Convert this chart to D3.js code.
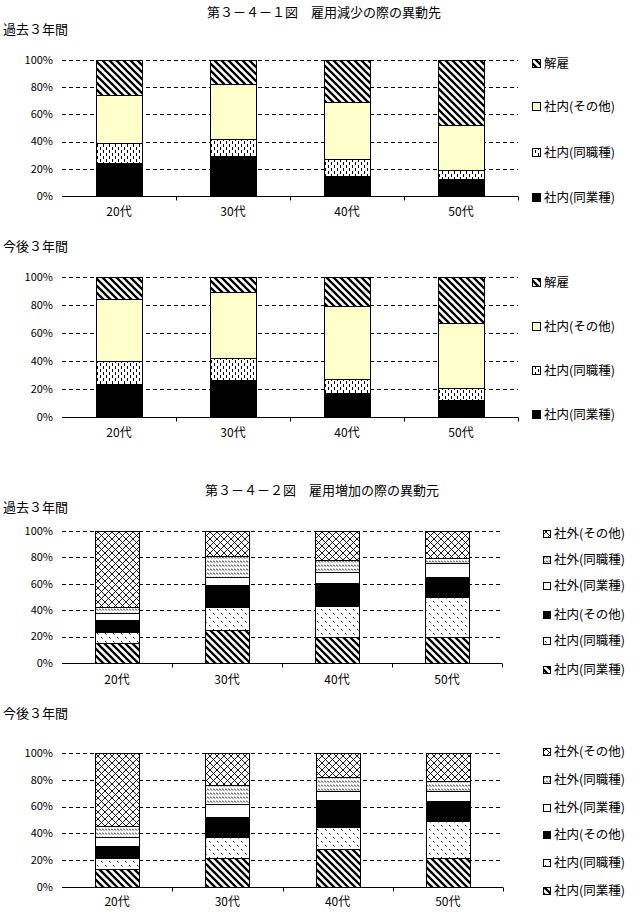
<!DOCTYPE html>
<html><head><meta charset="utf-8">
<script src="https://cdn.jsdelivr.net/npm/d3@7"></script>
<style>
body{margin:0;background:#fff;}
text{font-family:"Noto Sans CJK JP","Noto Sans",sans-serif;fill:#000;}
</style></head>
<body>
<svg id="c" width="640" height="915"></svg>
<script>
// ---- data ----
const categories = ["20代","30代","40代","50代"];
const yTicks = [0,20,40,60,80,100];
const yTickLabels = ["0%","20%","40%","60%","80%","100%"];

// Fig 3-4-1 series (bottom -> top)
const seriesA = ["社内(同業種)","社内(同職種)","社内(その他)","解雇"];
const pastA_same_industry = [24.0, 29.4, 14.7, 12.3];
const pastA_same_job      = [14.7, 12.3, 12.5, 6.8];
const pastA_other         = [35.6, 40.4, 42.2, 33.1];
const pastA_dismissal     = [25.7, 17.9, 30.6, 47.8];
const futA_same_industry  = [23.8, 26.6, 17.4, 12.4];
const futA_same_job       = [15.9, 15.5, 10.0, 8.3];
const futA_other          = [44.3, 47.2, 51.6, 46.4];
const futA_dismissal      = [16.0, 10.7, 21.0, 32.9];

// Fig 3-4-2 series (bottom -> top)
const seriesB = ["社内(同業種)","社内(同職種)","社内(その他)","社外(同業種)","社外(同職種)","社外(その他)"];
const pastB_in_industry  = [15.1, 25.1, 20.0, 20.0];
const pastB_in_job       = [8.3, 17.6, 23.4, 29.7];
const pastB_in_other     = [9.2, 16.3, 17.4, 15.6];
const pastB_out_industry = [5.1, 6.3, 7.8, 10.5];
const pastB_out_job      = [5.0, 16.1, 9.3, 4.1];
const pastB_out_other    = [57.3, 18.6, 22.1, 20.1];
const futB_in_industry   = [13.8, 21.8, 28.3, 21.8];
const futB_in_job        = [8.0, 15.7, 16.7, 27.7];
const futB_in_other      = [8.7, 14.5, 20.0, 14.8];
const futB_out_industry  = [7.0, 9.8, 6.7, 7.4];
const futB_out_job       = [8.0, 14.5, 10.3, 7.3];
const futB_out_other     = [54.5, 23.7, 18.0, 21.0];

const svg = d3.select("#c");
const defs = svg.append("defs");

// ---- patterns ----
function pat(id, w, h, build){
  const p = defs.append("pattern").attr("id", id).attr("patternUnits","userSpaceOnUse")
    .attr("width", w).attr("height", h);
  p.append("rect").attr("width", w).attr("height", h).attr("fill","#fff");
  build(p);
}
pat("hatch", 7, 7, p => p.append("path").attr("d","M-1,-1 L8,8 M-4.5,2.5 L2.5,9.5 M2.5,-4.5 L9.5,2.5")
  .attr("stroke","#000").attr("stroke-width",2.3));
pat("vdash", 6, 6, p => {
  p.append("rect").attr("x",1).attr("y",0).attr("width",1).attr("height",3).attr("fill","#000");
  p.append("rect").attr("x",4).attr("y",3).attr("width",1).attr("height",3).attr("fill","#000");
});
pat("confetti", 8, 8, p => {
  p.append("path").attr("d","M1,1 L2.5,2.5 M5,5 L6.5,6.5").attr("stroke","#000").attr("stroke-width",1);
});
pat("smallhatch", 3, 4, p => p.append("path").attr("d","M0,0.5 L2,2.5").attr("stroke","#000").attr("stroke-width",1));
pat("cross", 7, 7, p => p.append("path").attr("d","M0,0 L7,7 M7,0 L0,7").attr("stroke","#000").attr("stroke-width",0.9));

const fillsA = ["#000","url(#vdash)","#FFFFCC","url(#hatch)"];
const fillsB = ["url(#hatch)","url(#confetti)","#000","#fff","url(#smallhatch)","url(#cross)"];

function drawChart(cfg){
  const {x0,x1,yTop,yBot,series,fills,data,labelY,legend} = cfg;
  const g = svg.append("g");
  const x = d3.scaleBand().domain(categories).range([x0,x1]).paddingInner(0.6).paddingOuter(0.3);
  const y = d3.scaleLinear().domain([0,100]).range([yBot,yTop]);
  // gridlines
  g.selectAll("line.grid").data(yTicks.filter(t=>t>0)).join("line")
    .attr("x1",x0).attr("x2",x1).attr("y1",d=>Math.round(y(d))+0.5).attr("y2",d=>Math.round(y(d))+0.5)
    .attr("stroke","#000").attr("stroke-dasharray","4,3").attr("stroke-width",1);
  // y tick labels
  g.selectAll("text.yl").data(yTicks).join("text")
    .attr("x",x0-9).attr("y",d=>y(d)).attr("dy","0.35em").attr("text-anchor","end")
    .attr("font-size",11).text((d,i)=>yTickLabels[i]);
  // stacks
  const rows = categories.map((c,i)=>{ const o={cat:c}; series.forEach((s,j)=>o[s]=data[j][i]); return o; });
  const stacked = d3.stack().keys(series)(rows);
  stacked.forEach((layer,j)=>{
    g.append("g").selectAll("rect").data(layer).join("rect")
      .attr("x",d=>Math.round(x(d.data.cat))+0.5).attr("width",Math.round(x.bandwidth()))
      .attr("y",d=>Math.round(y(d[1]))+0.5).attr("height",d=>Math.round(y(d[0]))-Math.round(y(d[1])))
      .attr("fill",fills[j]).attr("stroke","#000").attr("stroke-width",1);
  });
  // x axis
  const xa = g.append("g").attr("transform",`translate(0,${Math.round(yBot)+0.5})`);
  xa.append("line").attr("x1",x0).attr("x2",x1).attr("stroke","#000");
  const bounds = categories.map((c,i)=>x0+(i+1)*x.step());
  xa.selectAll("line.t").data(bounds).join("line").attr("x1",d=>Math.round(d)+0.5).attr("x2",d=>Math.round(d)+0.5)
    .attr("y1",0).attr("y2",4).attr("stroke","#000");
  g.selectAll("text.xl").data(categories).join("text")
    .attr("x",d=>x(d)+x.bandwidth()/2).attr("y",labelY).attr("dy","0.35em").attr("text-anchor","middle")
    .attr("font-size",12).text(d=>d);
  // legend
  const items = series.map((s,j)=>({s, f:fills[j], y:legend.ys[j]}));
  const lg = g.append("g");
  items.forEach(it=>{
    lg.append("rect").attr("x",legend.x+0.5).attr("y",Math.round(it.y-legend.size/2)+0.5)
      .attr("width",legend.size).attr("height",legend.size).attr("fill",it.f).attr("stroke","#000");
    lg.append("text").attr("x",legend.x+legend.size+4).attr("y",it.y).attr("dy","0.36em")
      .attr("font-size",12.5).text(it.s);
  });
}

// titles
svg.append("text").attr("x",324).attr("y",12).attr("dy","0.36em").attr("text-anchor","middle").attr("font-size",13)
  .text("第３－４－１図　雇用減少の際の異動先");
svg.append("text").attr("x",3).attr("y",29).attr("dy","0.36em").attr("font-size",13).text("過去３年間");
svg.append("text").attr("x",3).attr("y",246).attr("dy","0.36em").attr("font-size",13).text("今後３年間");
svg.append("text").attr("x",322).attr("y",490).attr("dy","0.36em").attr("text-anchor","middle").attr("font-size",13)
  .text("第３－４－２図　雇用増加の際の異動元");
svg.append("text").attr("x",3).attr("y",507).attr("dy","0.36em").attr("font-size",13).text("過去３年間");
svg.append("text").attr("x",3).attr("y",713).attr("dy","0.36em").attr("font-size",13).text("今後３年間");

drawChart({x0:62,x1:518,yTop:60,yBot:196,series:seriesA,fills:fillsA,
  data:[pastA_same_industry,pastA_same_job,pastA_other,pastA_dismissal],labelY:212,
  legend:{x:532,size:8,ys:[197,152,106,63]}});
drawChart({x0:62,x1:518,yTop:277,yBot:417,series:seriesA,fills:fillsA,
  data:[futA_same_industry,futA_same_job,futA_other,futA_dismissal],labelY:433,
  legend:{x:532,size:8,ys:[414,370,326,282]}});
drawChart({x0:62,x1:502,yTop:531,yBot:663,series:seriesB,fills:fillsB,
  data:[pastB_in_industry,pastB_in_job,pastB_in_other,pastB_out_industry,pastB_out_job,pastB_out_other],labelY:680,
  legend:{x:543,size:7,ys:[669,640,614,585,559,533]}});
drawChart({x0:62,x1:503,yTop:753,yBot:887,series:seriesB,fills:fillsB,
  data:[futB_in_industry,futB_in_job,futB_in_other,futB_out_industry,futB_out_job,futB_out_other],labelY:902,
  legend:{x:543,size:7,ys:[890,862,834,807,779,751]}});
</script>
</body></html>
